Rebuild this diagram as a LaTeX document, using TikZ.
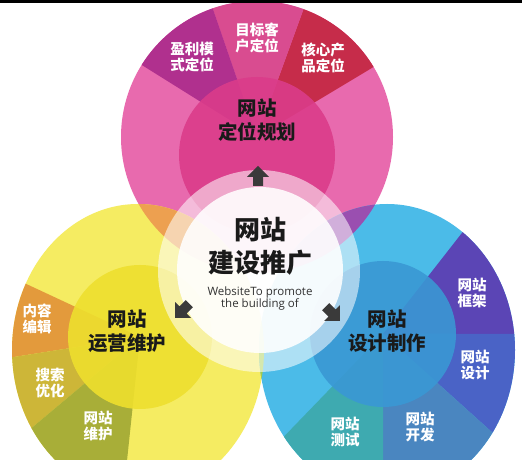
\documentclass[tikz,border=0pt]{standalone}
\usepackage{fontspec}
\newfontfamily\cjk{Noto Sans CJK SC}
\newfontfamily\latinf{Open Sans}
\definecolor{pinkring}{HTML}{E86AAE}
\definecolor{pinkin}{HTML}{DB3C8A}
\definecolor{pinkA}{HTML}{B0308E}
\definecolor{pinkB}{HTML}{D94C90}
\definecolor{pinkC}{HTML}{C62C4A}
\definecolor{yelring}{HTML}{F5EC62}
\definecolor{yelin}{HTML}{EEDF2E}
\definecolor{yelA}{HTML}{E39A3C}
\definecolor{yelB}{HTML}{CDB638}
\definecolor{yelC}{HTML}{A8AE38}
\definecolor{bluring}{HTML}{4BBBE8}
\definecolor{bluin}{HTML}{3A98D4}
\definecolor{bluA}{HTML}{5B45B5}
\definecolor{bluB}{HTML}{4A63C6}
\definecolor{bluC}{HTML}{4A86C0}
\definecolor{bluD}{HTML}{3EAAB0}
\definecolor{lensPY}{HTML}{EDA050}
\definecolor{lensPB}{HTML}{9A4FB0}
\definecolor{lensYB}{HTML}{A3CC4B}
\definecolor{arrowc}{HTML}{3A3A3A}
\definecolor{titlec}{HTML}{1A1A1A}
\tikzset{
  lbl/.style={text=white, font=\cjk\bfseries\fontsize{14.5}{16}\selectfont, align=center, inner sep=0pt},
  ttl/.style={text=titlec, font=\cjk\bfseries\fontsize{19.5}{24}\selectfont, align=center, inner sep=0pt},
  bigttl/.style={text=titlec, font=\cjk\bfseries\fontsize{26}{33}\selectfont, align=center, inner sep=0pt},
  entxt/.style={text=titlec!90, font=\latinf\fontsize{11.5}{12}\selectfont, align=center, inner sep=0pt},
  blockarrow/.style={fill=arrowc}
}
\newcommand\myarrow[2]{\fill[blockarrow, shift={#1}, rotate=#2] (-5,-9) -- (5,-9) -- (5,0) -- (11,0) -- (0,11) -- (-11,0) -- (-5,0) -- cycle;}
\begin{document}
\begin{tikzpicture}[x=1pt,y=1pt]
\useasboundingbox (0,0) rectangle (522,463);
\fill[white] (0,0) rectangle (522,463);
\begin{scope}
\clip (0,3) rectangle (522,460);
% ---- pink circle
\fill[pinkring] (257,326) circle (136);
\begin{scope}
  \clip (257,326) circle (136);
  \fill[pinkC] (257,326) -- ++(31:220) arc (31:70:220) -- cycle;
  \fill[pinkB] (257,326) -- ++(70:220) arc (70:109:220) -- cycle;
  \fill[pinkA] (257,326) -- ++(109:220) arc (109:148:220) -- cycle;
\end{scope}
\fill[pinkin, opacity=0.9] (257,308) circle (78);
% ---- yellow circle
\fill[yelring] (138,113) ellipse [x radius=126, y radius=146];
\begin{scope}
  \clip (138,113) ellipse [x radius=126, y radius=146];
  \fill[yelA] (140,126) -- ++(155:220) arc (155:189:220) -- cycle;
  \fill[yelB] (140,126) -- ++(189:220) arc (189:220:220) -- cycle;
  \fill[yelC] (140,126) -- ++(220:220) arc (220:264:220) -- cycle;
\end{scope}
\fill[yelin, opacity=0.9] (140,126) circle (72);
% ---- blue circle
\fill[bluring] (387,113) ellipse [x radius=128, y radius=146];
\begin{scope}
  \clip (387,113) ellipse [x radius=128, y radius=146];
  \fill[bluA] (383,129) -- ++(0:220) arc (0:52:220) -- cycle;
  \fill[bluB] (383,129) -- ++(-42:220) arc (-42:0:220) -- cycle;
  \fill[bluC] (383,129) -- ++(-90:220) arc (-90:-42:220) -- cycle;
  \fill[bluD] (383,129) -- ++(-134:220) arc (-134:-90:220) -- cycle;
\end{scope}
\fill[bluin, opacity=0.9] (383,129) circle (73);
% ---- overlaps
\begin{scope}
  \clip (257,326) circle (136);
  \fill[lensPY] (138,113) ellipse [x radius=126, y radius=146];
  \fill[lensPB] (387,113) ellipse [x radius=128, y radius=146];
\end{scope}
\begin{scope}
  \clip (138,113) ellipse [x radius=126, y radius=146];
  \fill[lensYB] (387,113) ellipse [x radius=128, y radius=146];
\end{scope}
% ---- centre
\fill[white, opacity=0.55] (259,192) circle (101);
\fill[white, opacity=0.88] (260,193) circle (83);
\end{scope}
\fill[black] (0,460) rectangle (522,463);
% ---- arrows
\myarrow{(258,286)}{0}
\myarrow{(183,153)}{135}
\myarrow{(332,150)}{-135}
% ---- texts
\node[bigttl] (centre) at (260,216.5) {网站\\建设推广};
\node[entxt] (eng) at (260,164) {WebsiteTo promote\\the building of};
\node[ttl] (pinkt) at (257,343) {网站\\定位规划};
\node[ttl] (yelt) at (127,131.5) {网站\\运营维护};
\node[ttl] (blut) at (387,131.5) {网站\\设计制作};
\node[lbl] (p1) at (192,405.5) {盈利模\\式定位};
\node[lbl] (p2) at (257,425.5) {目标客\\户定位};
\node[lbl] (p3) at (323,405.5) {核心产\\品定位};
\node[lbl] (y1) at (37,144) {内容\\编辑};
\node[lbl] (y2) at (50,79.5) {搜索\\优化};
\node[lbl] (y3) at (98,37) {网站\\维护};
\node[lbl] (b1) at (472,170.5) {网站\\框架};
\node[lbl] (b2) at (475,98) {网站\\设计};
\node[lbl] (b3) at (420,35.5) {网站\\开发};
\node[lbl] (b4) at (345,31.5) {网站\\测试};
\end{tikzpicture}
\end{document}
